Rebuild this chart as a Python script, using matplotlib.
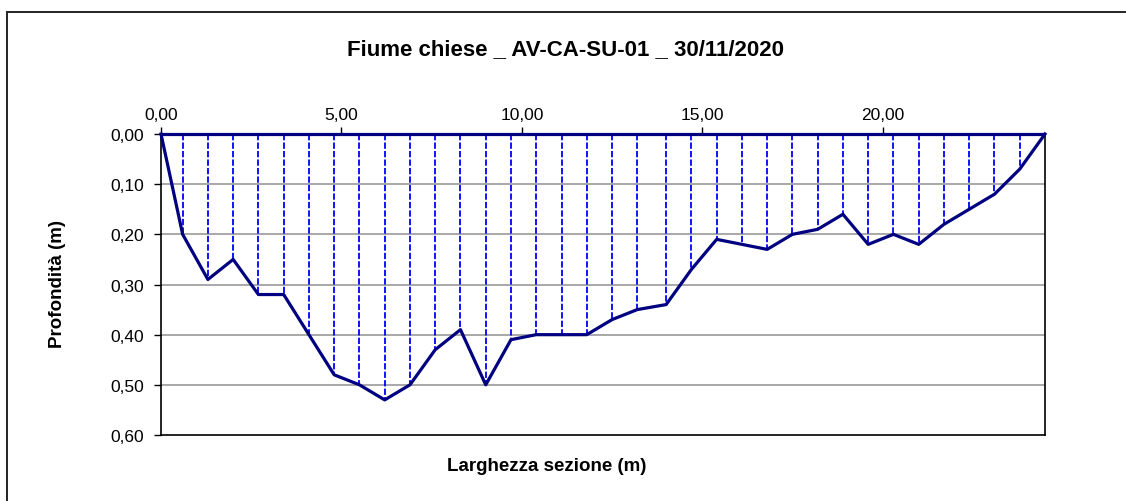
import matplotlib
matplotlib.use('Agg')
import matplotlib.pyplot as plt
from matplotlib.patches import Rectangle

plt.rcParams['font.family'] = ['Liberation Sans', 'DejaVu Sans']

# distanza dalla sponda (m) e profondità (m)
distanza = [0.0, 0.6, 1.3, 2.0, 2.7, 3.4, 4.1, 4.8, 5.5, 6.2, 6.9, 7.6, 8.3, 9.0,
            9.7, 10.4, 11.1, 11.8, 12.5, 13.2, 14.0, 14.7, 15.4, 16.1, 16.8, 17.5,
            18.2, 18.9, 19.6, 20.3, 21.0, 21.7, 22.4, 23.1, 23.8, 24.5]
profondita = [0.00, 0.20, 0.29, 0.25, 0.32, 0.32, 0.40, 0.48, 0.50, 0.53, 0.50, 0.43,
              0.39, 0.50, 0.41, 0.40, 0.40, 0.40, 0.37, 0.35, 0.34, 0.27, 0.21, 0.22,
              0.23, 0.20, 0.19, 0.16, 0.22, 0.20, 0.22, 0.18, 0.15, 0.12, 0.07, 0.00]
x_ticks = [0, 5, 10, 15, 20]
y_ticks = [0.0, 0.1, 0.2, 0.3, 0.4, 0.5, 0.6]

NAVY = '#000080'
BLUE = '#0000FF'

fig = plt.figure(figsize=(11.26, 5.02), dpi=100)
fig.patch.set_facecolor('white')
ax = fig.add_axes([161 / 1126, 1 - 436 / 502, 884 / 1126, 301 / 502])

# cornice esterna del grafico
fig.patches.append(Rectangle((7.5 / 1126, -0.1), 1.2, 1.1 - 13 / 502,
                             transform=fig.transFigure, fill=False,
                             edgecolor='#222222', lw=1.4, zorder=0))

# griglia orizzontale
for v in y_ticks[1:-1]:
    ax.axhline(v, color='#999999', lw=1.2, zorder=1)

# verticali tratteggiate
ax.vlines(distanza[1:-1], 0, profondita[1:-1], colors=BLUE,
          linestyles=(0, (3.5, 1.2)), lw=1.3, zorder=2)

# pelo libero
ax.plot([distanza[0], distanza[-1]], [0, 0], color=NAVY, lw=2.3, zorder=3,
        solid_capstyle='butt', clip_on=False)

# profilo del fondo
ax.plot(distanza, profondita, color=NAVY, lw=2.3, zorder=4, clip_on=False)

ax.set_xlim(0, 24.5)
ax.set_ylim(0.6, 0.0)
ax.xaxis.tick_top()
ax.set_xticks(x_ticks)
ax.set_xticklabels([f'{v:.2f}'.replace('.', ',') for v in x_ticks], fontsize=12.5)
ax.set_yticks(y_ticks)
ax.set_yticklabels([f'{v:.2f}'.replace('.', ',') for v in y_ticks], fontsize=12.5)
ax.tick_params(axis='both', direction='out', length=5, width=1, color='black')
ax.tick_params(axis='x', pad=4)
ax.tick_params(axis='y', pad=7)

for side in ['left', 'right', 'bottom']:
    ax.spines[side].set_color('black')
    ax.spines[side].set_linewidth(1.2)
ax.spines['top'].set_visible(False)

fig.text(566 / 1126, 1 - 50 / 502, 'Fiume chiese _ AV-CA-SU-01 _ 30/11/2020',
         ha='center', va='center', fontsize=16, fontweight='bold')
fig.text(57 / 1126, 1 - 284 / 502, 'Profondità (m)', rotation=90,
         ha='center', va='center', fontsize=13.5, fontweight='bold')
fig.text(547 / 1126, 1 - 467 / 502, 'Larghezza sezione (m)',
         ha='center', va='center', fontsize=13.5, fontweight='bold')

plt.savefig('out.png', dpi=100, facecolor='white')
print("Saved out.png")
